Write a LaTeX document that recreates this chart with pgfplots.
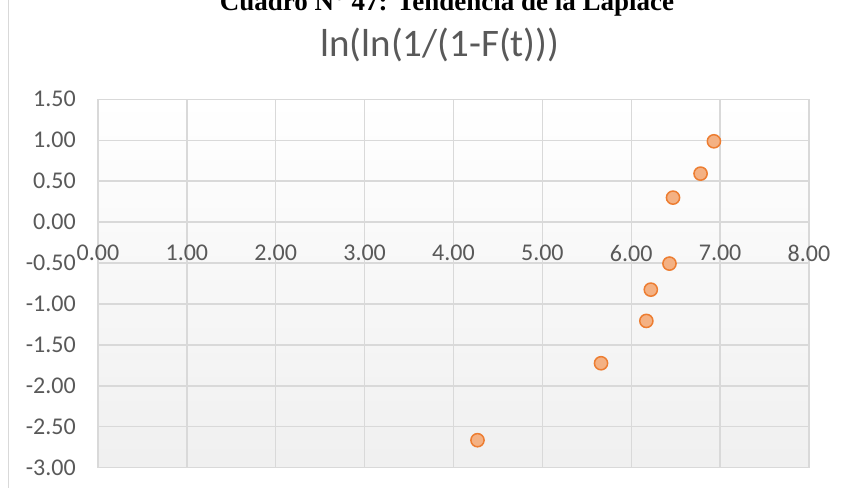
\documentclass[border=0pt]{standalone}
\usepackage{pgfplots}
\pgfplotsset{compat=1.18}
\usepackage{fontspec}
\setmainfont{Carlito}
\newfontfamily\timesfont{Liberation Serif}
\definecolor{gridc}{HTML}{D9D9D9}
\definecolor{txt}{HTML}{595959}
\definecolor{mkfill}{HTML}{F4B183}
\definecolor{mkedge}{HTML}{ED7D31}
\begin{document}
\begin{tikzpicture}
\useasboundingbox (0,0) rectangle (845bp,488bp);
\draw[gridc, line width=1bp] (8bp,0) -- (8bp,488bp);
\node[anchor=base, inner sep=0pt, font=\timesfont\bfseries\fontsize{27bp}{30bp}\selectfont] at (447bp,477bp) {Cuadro N° 47: Tendencia de la Laplace};
\node[anchor=base, inner sep=0pt, text=txt, font=\fontsize{39bp}{42bp}\selectfont] at (440bp,431bp) {ln(ln(1/(1-F(t)))};
\begin{axis}[
  at={(98bp,20.3bp)}, anchor=south west, scale only axis,
  width=711bp, height=368.4bp,
  xmin=0, xmax=8, ymin=-3, ymax=1.5,
  xtick={0,1,...,8}, ytick={-3,-2.5,...,1.5},
  axis x line*=middle, axis y line*=left,
  hide obscured x ticks=false, hide obscured y ticks=false,
  axis line style={gridc, line width=1.4bp, -},
  grid=major, major grid style={gridc, line width=1.4bp},
  major tick length=0pt,
  axis background/.style={shade, top color=white, bottom color=black!6},
  /pgf/number format/assume math mode=true,
  xticklabel={\pgfmathprintnumber[fixed, fixed zerofill, precision=2]{\tick}},
  yticklabel={\pgfmathprintnumber[fixed, fixed zerofill, precision=2]{\tick}},
  ticklabel style={text=txt, font=\fontsize{24bp}{28bp}\selectfont, inner sep=0pt},
  xticklabel style={anchor=north, yshift=-23bp},
  yticklabel style={anchor=east, xshift=-22bp},
  clip=false,
]
\addplot[only marks, mark=*, mark size=6.6bp,
  mark options={fill=mkfill, draw=mkedge, line width=1.5bp}]
  coordinates {
  (6.93,0.987) (6.78,0.592) (6.47,0.299) (6.43,-0.507)
  (6.22,-0.825) (6.17,-1.207) (5.66,-1.724) (4.27,-2.664)
  };
\end{axis}
\end{tikzpicture}
\end{document}
